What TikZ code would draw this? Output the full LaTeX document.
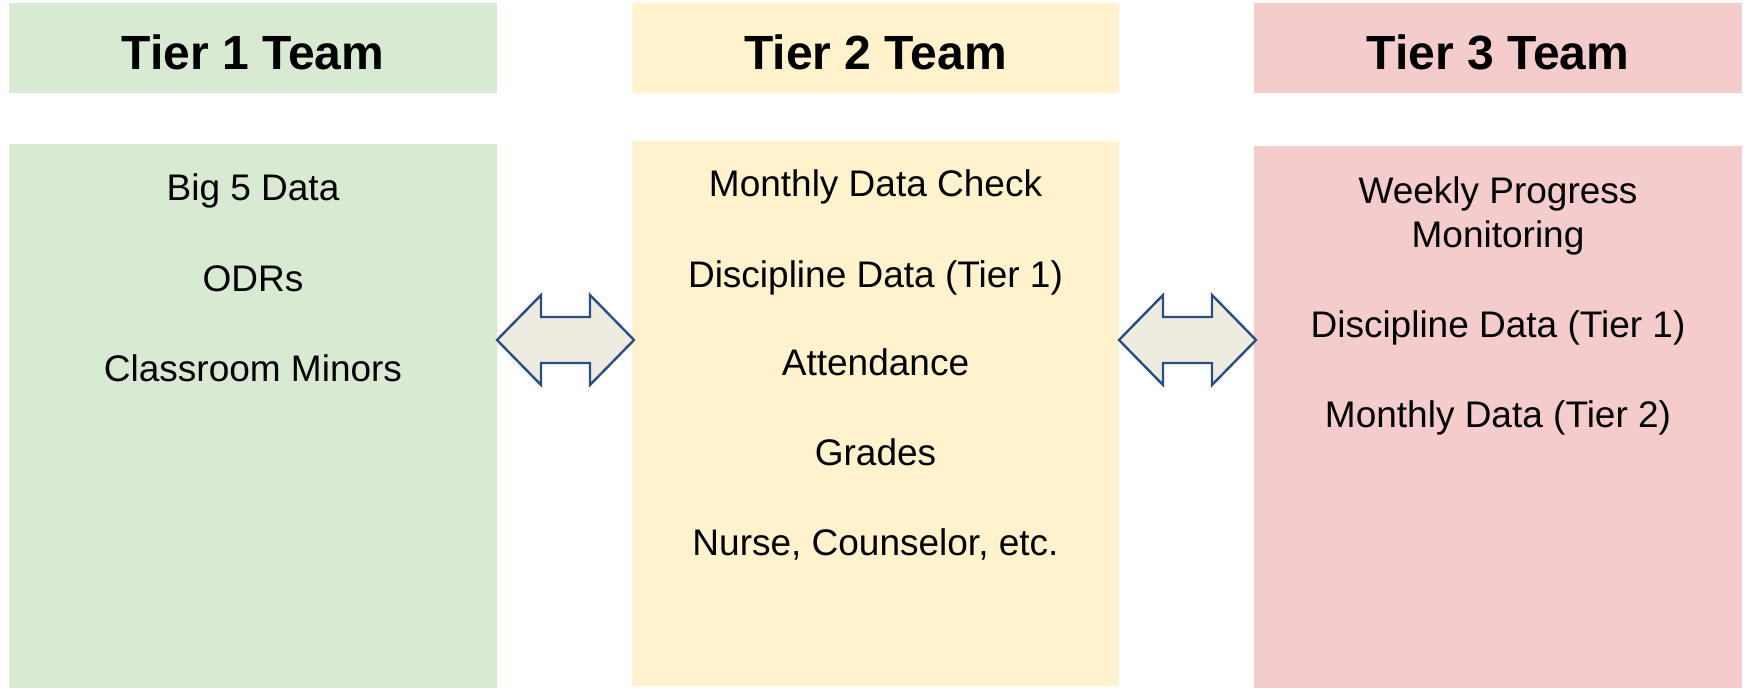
\documentclass[tikz,border=0pt]{standalone}
\usepackage{fontspec}
\setmainfont{Liberation Sans}

\definecolor{tierOne}{RGB}{217,234,211}
\definecolor{tierTwo}{RGB}{255,242,204}
\definecolor{tierThree}{RGB}{244,204,204}
\definecolor{arrowFill}{RGB}{238,236,225}
\definecolor{arrowColor}{RGB}{41,77,133}

\begin{document}
\begin{tikzpicture}[x=0.5pt,y=0.5pt,
  panel/.style={inner sep=0pt, outer sep=0pt},
  headtext/.style={anchor=base, inner sep=0pt, outer sep=0pt, font=\fontsize{24}{29}\selectfont\bfseries},
  itemtext/.style={anchor=base, inner sep=0pt, outer sep=0pt, font=\fontsize{18.5}{22}\selectfont},
  blockarrow/.style={draw=arrowColor, fill=arrowFill, line width=1.2pt, line join=miter}]
\useasboundingbox (0,0) rectangle (1748,688);

% team headers
\node[panel, fill=tierOne, minimum width=244pt, minimum height=45pt] (head1) at (253,640) {};
\node[panel, fill=tierTwo, minimum width=243.5pt, minimum height=45pt] (head2) at (875.5,640) {};
\node[panel, fill=tierThree, minimum width=244pt, minimum height=45pt] (head3) at (1498,640) {};

\node[headtext] (title1) at (253,618) {Tier 1 Team};
\node[headtext] (title2) at (875.5,618) {Tier 2 Team};
\node[headtext] (title3) at (1498,618) {Tier 3 Team};

% data columns
\node[panel, fill=tierOne, minimum width=244pt, minimum height=272pt] (body1) at (253,272) {};
\node[panel, fill=tierTwo, minimum width=243.5pt, minimum height=272.5pt] (body2) at (875.5,274.5) {};
\node[panel, fill=tierThree, minimum width=244pt, minimum height=271pt] (body3) at (1498,271) {};

\node[itemtext] (t1a) at (253,487) {Big 5 Data};
\node[itemtext] (t1b) at (253,396) {ODRs};
\node[itemtext] (t1c) at (253,306) {Classroom Minors};

\node[itemtext] (t2a) at (875.5,491) {Monthly Data Check};
\node[itemtext] (t2b) at (875.5,400) {Discipline Data (Tier 1)};
\node[itemtext] (t2c) at (875.5,312) {Attendance};
\node[itemtext] (t2d) at (875.5,222) {Grades};
\node[itemtext] (t2e) at (875.5,132) {Nurse, Counselor, etc.};

\node[itemtext] (t3a) at (1498,484) {Weekly Progress};
\node[itemtext] (t3b) at (1498,440) {Monitoring};
\node[itemtext] (t3c) at (1498,350) {Discipline Data (Tier 1)};
\node[itemtext] (t3d) at (1498,260) {Monthly Data (Tier 2)};

% two-way arrows between the teams
\draw[blockarrow] (body1.east |- 0,348) -- ++(44,45) -- ++(0,-22) -- ++(49,0) -- ++(0,22)
  -- ++(44,-45) -- ++(-44,-45) -- ++(0,22) -- ++(-49,0) -- ++(0,-22) -- cycle;
\draw[blockarrow] (body2.east |- 0,348) -- ++(44,45) -- ++(0,-22) -- ++(49,0) -- ++(0,22)
  -- ++(44,-45) -- ++(-44,-45) -- ++(0,22) -- ++(-49,0) -- ++(0,-22) -- cycle;
\end{tikzpicture}
\end{document}
